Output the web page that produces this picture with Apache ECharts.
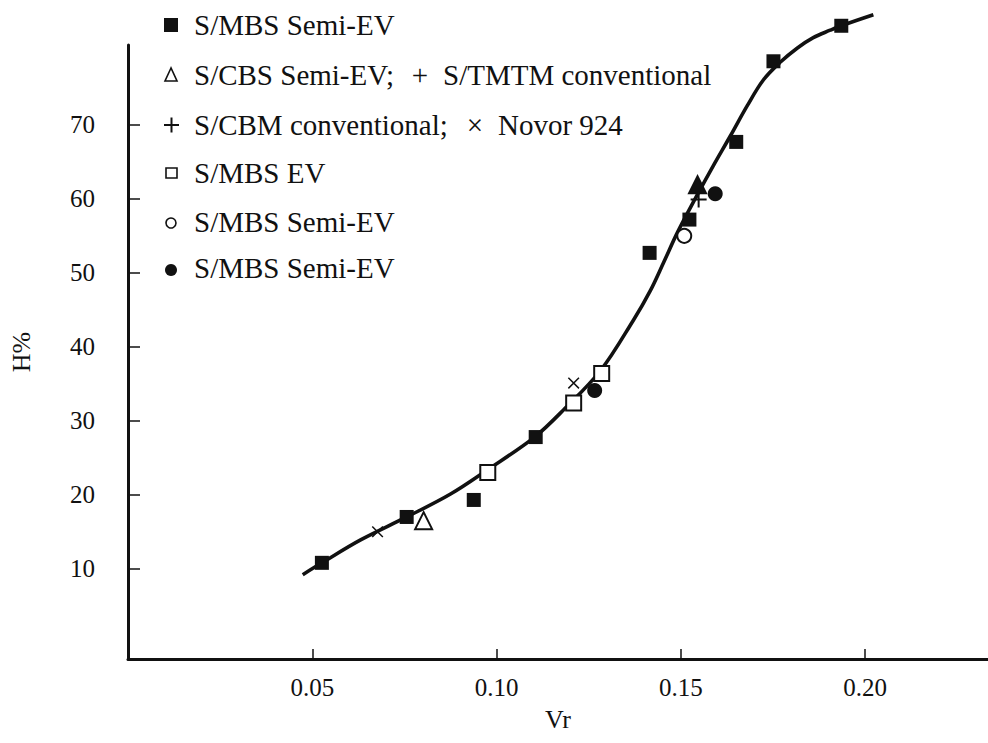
<!DOCTYPE html>
<html>
<head>
<meta charset="utf-8">
<script src="https://cdn.jsdelivr.net/npm/echarts@6/dist/echarts.min.js"></script>
<style>
html,body{margin:0;padding:0;background:#fff;}
#c{width:988px;height:743px;}
</style>
</head>
<body>
<div id="c"></div>
<script>
// ---- data (Vr, H%) ----
const curveVr = [0.0474,0.0526,0.0631,0.0756,0.0875,0.0976,0.1103,0.1182,0.1282,0.1371,0.1417,0.1453,0.1491,0.1545,0.1588,0.1634,0.1680,0.1724,0.1770,0.1816,0.1859,0.1905,0.1940,0.2022];
const curveH  = [9.2,10.8,13.9,17.0,20.1,23.4,27.8,31.5,36.8,43.6,47.6,51.4,55.5,60.6,64.5,68.5,72.6,76.1,78.5,80.4,81.8,82.8,83.5,84.9];

const mbsSemiEvSolidSquare = [[0.0526,10.8],[0.0756,17.0],[0.0938,19.3],[0.1106,27.8],[0.1415,52.7],[0.1523,57.2],[0.1650,67.7],[0.1751,78.6],[0.1935,83.4]];
const cbsSemiEvTriangle = [[0.0802,16.5],[0.1545,61.9]];
const cbmConventionalPlus = [[0.1548,59.9]];
const novor924Cross = [[0.0677,15.0],[0.1209,35.1]];
const mbsEvOpenSquare = [[0.0976,23.0],[0.1209,32.4],[0.1285,36.4]];
const mbsSemiEvOpenCircle = [[0.1509,55.0]];
const mbsSemiEvSolidCircle = [[0.1266,34.1],[0.1593,60.7]];

const xTickValues = [0.05,0.10,0.15,0.20];
const yTickValues = [10,20,30,40,50,60,70];

const legendRows = [
  ['S/MBS Semi-EV'],
  ['S/CBS Semi-EV;', '+', 'S/TMTM conventional'],
  ['S/CBM conventional;', '\u00d7', 'Novor 924'],
  ['S/MBS EV'],
  ['S/MBS Semi-EV'],
  ['S/MBS Semi-EV']
];
const xName = 'Vr';
const yName = 'H%';

// ---- chart ----
const FONT = '"Liberation Serif","DejaVu Serif",serif';
const INK = '#111';
const chart = echarts.init(document.getElementById('c'), null, {renderer:'svg'});

const plusPath = 'path://M-1,-8H1V8H-1ZM-8,-1H8V1H-8Z';
const crossPath = 'path://M-0.8,-8H0.8V8H-0.8ZM-8,-0.8H8V0.8H-8Z';

function sc(name, data, symbol, size, style, extra) {
  return Object.assign({
    type:'scatter', name, data, symbol, symbolSize:size, clip:false, z:5,
    itemStyle:Object.assign({opacity:1}, style), emphasis:{disabled:true}, silent:true
  }, extra||{});
}

const curve = curveVr.map((v,i)=>[v, curveH[i]]);
// the upper triangle is printed solid in the figure
const triangleData = cbsSemiEvTriangle.map((p,i)=> i===1 ? {value:p, itemStyle:{color:INK}} : p);

const rowY = [25,75,125,173,222,268];
const LFS = 29;
const txtStyle = (text,x,y,align)=>({type:'text', x, y, style:{text, x:0, y:0, fill:INK, font:LFS+'px '+FONT, align:align||'left', verticalAlign:'middle'}, silent:true});

const graphics = [];
// legend markers
graphics.push({type:'rect', shape:{x:164,y:rowY[0]-7,width:14,height:14}, style:{fill:INK}});
graphics.push({type:'polygon', shape:{points:[[171,rowY[1]-7],[165,rowY[1]+6],[177,rowY[1]+6]]}, style:{fill:'#fff', stroke:INK, lineWidth:1.6}});
graphics.push({type:'rect', shape:{x:164,y:rowY[2]-1,width:15,height:2}, style:{fill:INK}});
graphics.push({type:'rect', shape:{x:170.5,y:rowY[2]-7.5,width:2,height:15}, style:{fill:INK}});
graphics.push({type:'rect', shape:{x:166,y:rowY[3]-5,width:11,height:10}, style:{fill:'#fff', stroke:INK, lineWidth:1.6}});
graphics.push({type:'circle', shape:{cx:171,cy:rowY[4]+1,r:5}, style:{fill:'#fff', stroke:INK, lineWidth:1.6}});
graphics.push({type:'circle', shape:{cx:171,cy:rowY[5]+2,r:6}, style:{fill:INK}});
// legend text
const textX = 194;
legendRows.forEach((row,i)=>{
  if (row.length === 1) graphics.push(txtStyle(row[0], textX, rowY[i]));
});
graphics.push(txtStyle(legendRows[1][0], textX, rowY[1]));
graphics.push(txtStyle(legendRows[1][1], 420, rowY[1], 'center'));
graphics.push(txtStyle(legendRows[1][2], 443, rowY[1]));
graphics.push(txtStyle(legendRows[2][0], textX, rowY[2]));
graphics.push(txtStyle(legendRows[2][1], 475, rowY[2], 'center'));
graphics.push(txtStyle(legendRows[2][2], 498, rowY[2]));

const option = {
  backgroundColor:'#fff',
  animation:false,
  grid:{left:127, right:0, top:45, bottom:84, containLabel:false},
  xAxis:{
    type:'value', min:0, max:0.2333,
    name:xName, nameLocation:'middle', nameGap:47,
    nameTextStyle:{fontFamily:FONT, fontSize:26, color:INK},
    axisLine:{show:true, onZero:false, lineStyle:{color:INK, width:3}},
    axisTick:{show:true, inside:true, length:10, customValues:xTickValues, lineStyle:{color:INK, width:1.5}},
    axisLabel:{show:true, customValues:xTickValues, margin:16, fontFamily:FONT, fontSize:25, color:INK,
      formatter:v=>Number(v).toFixed(2)},
    splitLine:{show:false}
  },
  yAxis:{
    type:'value', min:-2.2, max:80.8,
    name:yName, nameLocation:'middle', nameGap:94, nameRotate:90,
    nameTextStyle:{fontFamily:FONT, fontSize:26, color:INK},
    axisLine:{show:true, onZero:false, lineStyle:{color:INK, width:3}},
    axisTick:{show:true, inside:true, length:12, customValues:yTickValues, lineStyle:{color:INK, width:1.5}},
    axisLabel:{show:true, customValues:yTickValues, margin:33, fontFamily:FONT, fontSize:25, color:INK},
    splitLine:{show:false}
  },
  graphic:graphics,
  series:[
    {type:'line', name:'curve', data:curve, smooth:0.35, showSymbol:false, clip:false, z:3,
      lineStyle:{color:INK, width:3.6}, silent:true},
    sc('S/MBS Semi-EV', mbsSemiEvSolidSquare, 'rect', 14, {color:INK}),
    sc('S/CBS Semi-EV', triangleData, 'triangle', 17, {color:'#fff', borderColor:INK, borderWidth:2}),
    sc('S/CBM conventional', cbmConventionalPlus, plusPath, 16, {color:INK}),
    sc('Novor 924', novor924Cross, crossPath, 15, {color:INK}, {symbolRotate:45}),
    sc('S/MBS EV', mbsEvOpenSquare, 'rect', 15, {color:'#fff', borderColor:INK, borderWidth:2}),
    sc('S/MBS Semi-EV (open circle)', mbsSemiEvOpenCircle, 'circle', 14, {color:'#fff', borderColor:INK, borderWidth:2}),
    sc('S/MBS Semi-EV (solid circle)', mbsSemiEvSolidCircle, 'circle', 15, {color:INK})
  ]
};
chart.setOption(option);
</script>
</body>
</html>
